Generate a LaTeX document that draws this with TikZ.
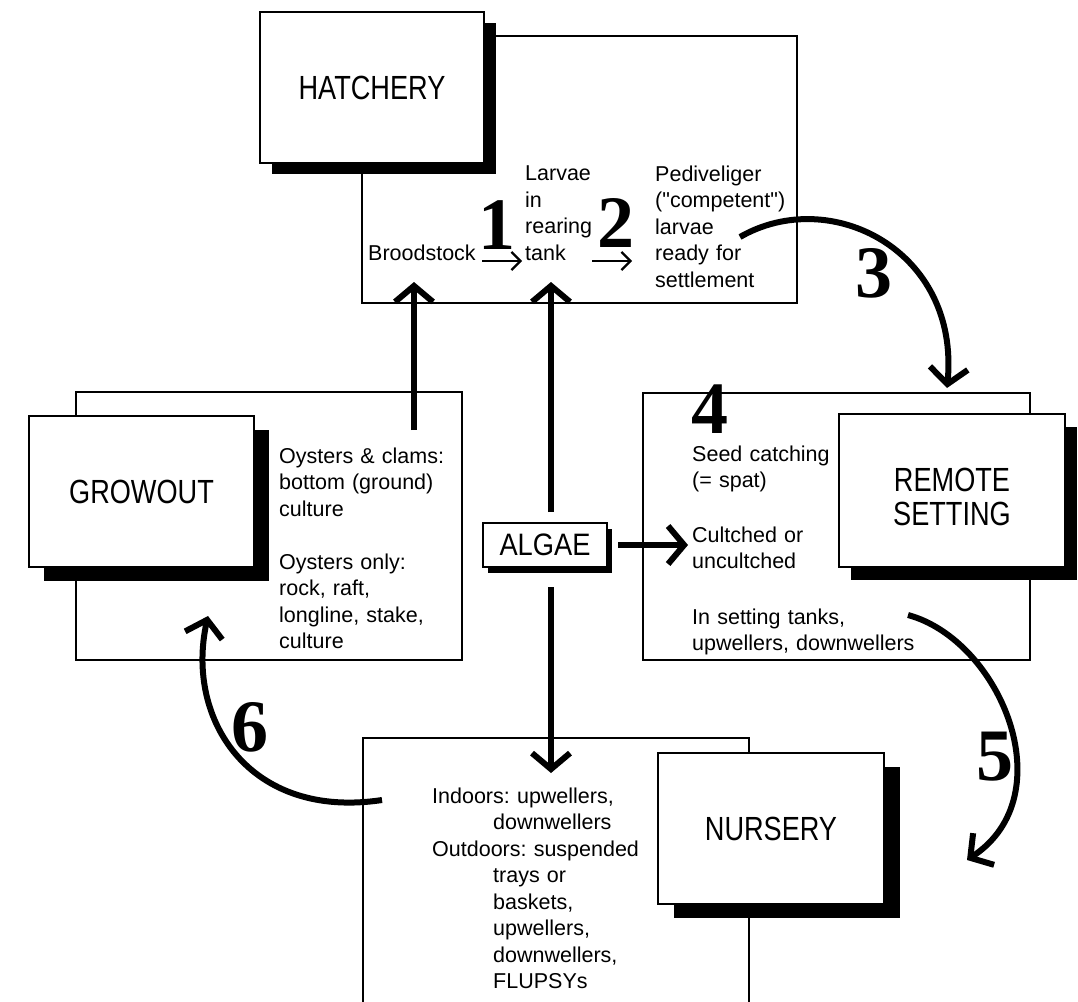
\documentclass[tikz,border=0pt]{standalone}
\usepackage{fontspec}
\setmainfont{Liberation Sans}[Ligatures=TeXOff]
\newfontfamily\lblfont[FakeStretch=0.81]{Liberation Sans}
\newfontfamily\algfont[FakeStretch=0.88]{Liberation Sans}
\newfontfamily\digitfont{Liberation Serif}
\usetikzlibrary{arrows.meta,shadows}
\begin{document}
\frenchspacing
\begin{tikzpicture}[x=1pt,y=-1pt,
  bigbox/.style={draw,line width=2pt},
  lblbox/.style={draw,line width=2pt,fill=white,inner sep=0pt,align=center,
    font=\lblfont\fontsize{33.5pt}{34pt}\selectfont},
  body/.style={inner sep=0pt,anchor=base west,text width=260pt,align=left,
    font=\frenchspacing\fontsize{21.5pt}{26.5pt}\selectfont},
  digit/.style={inner sep=0pt,font=\digitfont\bfseries\fontsize{74pt}{74pt}\selectfont},
  flow/.style={line width=6pt,-{Straight Barb[length=16pt,width=38pt]}},
  small/.style={line width=2.2pt,-{Straight Barb[length=9pt,width=18pt]}},
]
\useasboundingbox[fill=white] (0,0) rectangle (1078,1001);

% large stage boxes
\draw[bigbox] (362,36) rectangle (797,303);
\draw[bigbox] (76,392) rectangle (462,660);
\draw[bigbox] (643,393) rectangle (1030,660);
\draw[bigbox] (363,1010) |- (749,738) -- (749,1010);

% shadowed labels
\node[lblbox,minimum width=224pt,minimum height=151pt,
  drop shadow={shadow xshift=12pt,shadow yshift=-11pt,fill=black,opacity=1}]
  (hatchery) at (372,87.5) {HATCHERY};
\node[lblbox,minimum width=225pt,minimum height=151pt,
  drop shadow={shadow xshift=15pt,shadow yshift=-14pt,fill=black,opacity=1}]
  (growout) at (141.5,491.5) {GROWOUT};
\node[lblbox,minimum width=226pt,minimum height=153pt,
  drop shadow={shadow xshift=12pt,shadow yshift=-13pt,fill=black,opacity=1}]
  (remote) at (952,490.5) {\rule{0pt}{36pt}REMOTE\\SETTING};
\node[lblbox,minimum width=226pt,minimum height=151pt,
  drop shadow={shadow xshift=16pt,shadow yshift=-14pt,fill=black,opacity=1}]
  (nursery) at (771,828.5) {NURSERY};
\node[lblbox,minimum width=124pt,minimum height=44pt,
  font=\algfont\fontsize{31pt}{31pt}\selectfont,
  drop shadow={shadow xshift=5pt,shadow yshift=-6pt,fill=black,opacity=1}]
  (algae) at (545,545) {ALGAE};

% texts
\node[body] (brood) at (368,260) {Broodstock};
\node[body] (larvae) at (525,180.5) {Larvae\\in\\rearing\\tank};
\node[body] (pedi) at (655,181) {Pediveliger\\("competent")\\larvae\\ready for\\settlement};
\node[body] (grow1) at (279,463) {Oysters \& clams:\\bottom (ground)\\culture};
\node[body] (grow2) at (279,569) {Oysters only:\\rock, raft,\\longline, stake,\\culture};
\node[body] (seed) at (692,461) {Seed catching\\(= spat)};
\node[body] (cultch) at (692,542) {Cultched or\\uncultched};
\node[body] (tanks) at (692,624) {In setting tanks,\\upwellers, downwellers};
\node[body] (nurs) at (432,803) {Indoors: upwellers,\\\hspace*{61pt}downwellers\\Outdoors: suspended\\\hspace*{61pt}trays or\\\hspace*{61pt}baskets,\\\hspace*{61pt}upwellers,\\\hspace*{61pt}downwellers,\\\hspace*{61pt}FLUPSYs};

% step numbers
\node[digit] (n1) at (497,225) {1};
\node[digit] (n2) at (616,223) {2};
\node[digit] (n3) at (874,273) {3};
\node[digit] (n4) at (710,409) {4};
\node[digit] (n5) at (995,757) {5};
\node[digit] (n6) at (250,727) {6};

% connector ends
\coordinate (gup) at (414,430);
\coordinate (hin1) at (414,282);
\coordinate (atop) at (551,512);
\coordinate (hin2) at (551,282);
\coordinate (abot) at (551,587);
\coordinate (nin) at (551,773);
\coordinate (t1a) at (482,261);
\coordinate (t1b) at (522,261);
\coordinate (t2a) at (592,261);
\coordinate (t2b) at (632,261);
\coordinate (c3a) at (740,237);
\coordinate (c3b) at (947,388);
\coordinate (c5a) at (908,615);
\coordinate (c5b) at (967,860);
\coordinate (c6a) at (382,800);
\coordinate (c6b) at (208,616);

% connectors
\draw[flow] (gup) -- (hin1);
\draw[flow] (atop) -- (hin2);
\draw[flow] (abot) -- (nin);
\draw[flow,shorten <=10pt,shorten >=4pt] (algae.east) -- (algae.east -| cultch.west);
\draw[small] (t1a) -- (t1b);
\draw[small] (t2a) -- (t2b);
\draw[flow] (c3a) .. controls (830,185) and (960,250) .. (c3b);
\draw[flow] (c5a) .. controls (1000,640) and (1065,795) .. (c5b);
\draw[flow] (c6a) .. controls (250,820) and (185,720) .. (c6b);
\end{tikzpicture}
\end{document}
